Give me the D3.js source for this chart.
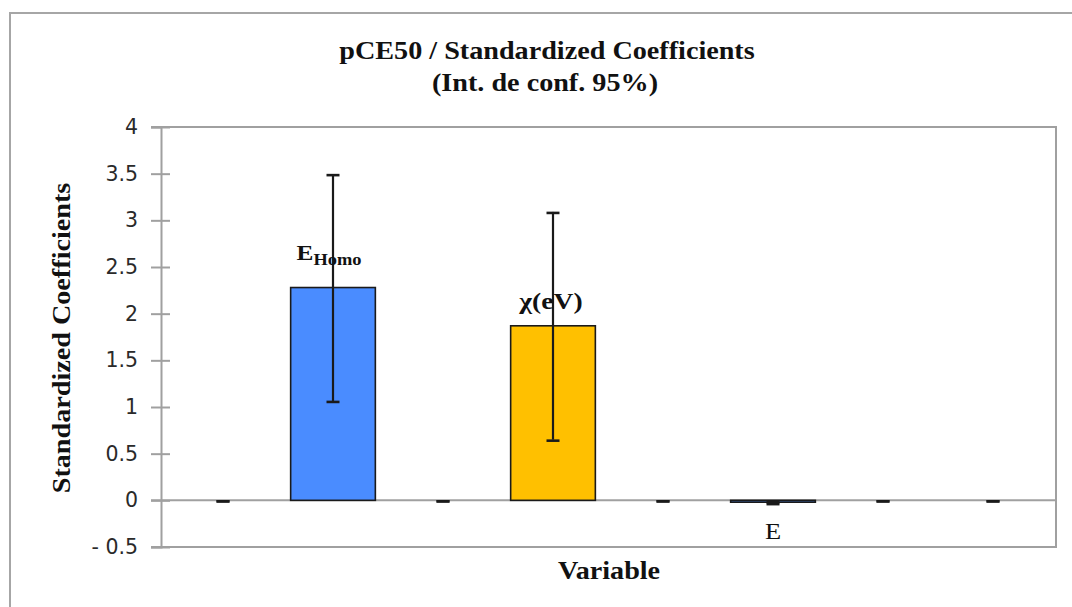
<!DOCTYPE html>
<html>
<head>
<meta charset="utf-8">
<script src="https://cdn.jsdelivr.net/npm/d3@7"></script>
<style>
  html, body { margin: 0; padding: 0; background: #ffffff; }
  svg { display: block; }
</style>
</head>
<body>
<svg id="chart" width="1072" height="607"></svg>
<script>
// ---- data ----
const categories = ["V1", "EHomo", "V3", "chi", "V5", "E", "V7", "V8"];
const values     = [0, 2.28, 0, 1.87, 0, -0.02, 0, 0];
const errors     = [0, 1.215, 0, 1.22, 0, 0.01, 0, 0];
const labelMain  = ["", "E", "", "χ(eV)", "", "E", "", ""];
const labelSub   = ["", "Homo", "", "", "", "", "", ""];
const yTickValues = [-0.5, 0, 0.5, 1, 1.5, 2, 2.5, 3, 3.5, 4];
const yTickLabels = ["- 0.5", "0", "0.5", "1", "1.5", "2", "2.5", "3", "3.5", "4"];
const titleLines = ["pCE50 / Standardized Coefficients", "(Int. de conf. 95%)"];
const yTitle = "Standardized Coefficients";
const xTitle = "Variable";

// ---- styles ----
const barFill = { EHomo: "#4a8cff", chi: "#ffc000", E: "#4a8cff" };
const gridGray = "#a0a0a0";
const serif = "'Liberation Serif', 'Times New Roman', serif";
const sans = "'DejaVu Sans', Verdana, sans-serif";
const SX = 1.15; // horizontal glyph stretch seen in reference

const svg = d3.select("#chart");
const plot = { left: 161, top: 127, right: 1056, bottom: 547 };

// outer frame
svg.append("rect")
  .attr("x", 10).attr("y", 13).attr("width", 1080).attr("height", 620)
  .attr("fill", "none").attr("stroke", "#a6a6a6").attr("stroke-width", 2);

const y = d3.scaleLinear().domain([-0.5, 4]).range([plot.bottom, plot.top]);
const x = d3.scaleBand().domain(categories)
  .range([plot.left + 7, plot.right - 8])
  .paddingInner(0.23).paddingOuter(0.115);

// plot frame (top & right), bottom line
svg.append("path")
  .attr("d", `M${plot.left - 10},${plot.top}H${plot.right}V${plot.bottom}H${plot.left - 10}`)
  .attr("fill", "none").attr("stroke", gridGray).attr("stroke-width", 2);

// y axis
const yAxis = d3.axisLeft(y)
  .tickValues(yTickValues)
  .tickFormat((d, i) => yTickLabels[i])
  .tickSize(10).tickPadding(13);
const gy = svg.append("g").attr("transform", `translate(${plot.left},0)`).call(yAxis);
gy.select(".domain").attr("stroke", gridGray).attr("stroke-width", 2);
gy.selectAll(".tick line").attr("stroke", gridGray).attr("stroke-width", 2);
gy.selectAll(".tick").append("line")
  .attr("x1", 0).attr("x2", 9).attr("stroke", gridGray).attr("stroke-width", 2);
gy.selectAll(".tick text")
  .attr("fill", "#2a2a2a").style("font-family", sans).style("font-size", "20.5px");

// zero line
svg.append("line")
  .attr("x1", plot.left - 10).attr("x2", plot.right)
  .attr("y1", y(0)).attr("y2", y(0))
  .attr("stroke", gridGray).attr("stroke-width", 2);

// bars
const data = categories.map((c, i) => ({ c, v: values[i], e: errors[i], lm: labelMain[i], ls: labelSub[i] }));
svg.append("g").selectAll("rect")
  .data(data.filter(d => d.v !== 0))
  .join("rect")
  .attr("x", d => x(d.c))
  .attr("width", x.bandwidth())
  .attr("y", d => Math.min(y(d.v), y(0)))
  .attr("height", d => Math.abs(y(d.v) - y(0)))
  .attr("fill", d => barFill[d.c])
  .attr("stroke", "#1a1a1a").attr("stroke-width", 1.6);

// error bars
const eb = svg.append("g").attr("stroke", "#1a1a1a").attr("stroke-width", 2.2);
data.forEach(d => {
  const cx = x(d.c) + x.bandwidth() / 2;
  eb.append("line").attr("x1", cx).attr("x2", cx)
    .attr("y1", y(d.v - d.e)).attr("y2", y(d.v + d.e));
  [d.v - d.e, d.v + d.e].forEach(val => {
    eb.append("line").attr("x1", cx - 6.5).attr("x2", cx + 6.5)
      .attr("y1", y(val) + 1).attr("y2", y(val) + 1).attr("stroke-width", 2.6);
  });
});

// helper for horizontally stretched text
function sText(parent, str, cx, cy, size, weight, rotate) {
  const t = parent.append("text")
    .attr("transform", `translate(${cx},${cy})${rotate ? " rotate(-90)" : ""} scale(${SX},1)`)
    .attr("text-anchor", "middle")
    .style("font-family", serif).style("font-size", size + "px")
    .style("font-weight", weight).attr("fill", "#111");
  if (str !== null) t.text(str);
  return t;
}

// data labels
data.forEach(d => {
  if (!d.lm) return;
  const cx = x(d.c) + x.bandwidth() / 2;
  if (d.ls) {
    const t = sText(svg, null, cx - 4, y(d.v) - 28, 22, "bold");
    t.append("tspan").text(d.lm);
    t.append("tspan").attr("dy", 5).style("font-size", "16px").text(d.ls);
  } else if (d.v > 0) {
    sText(svg, d.lm, cx - 2, y(d.v) - 17, 24, "bold");
  } else {
    sText(svg, d.lm, cx, y(d.v) + 37, 23, "normal");
  }
});

// titles
sText(svg, titleLines[0], 547, 59, 24.5, "bold");
sText(svg, titleLines[1], 545, 91, 24.5, "bold");
sText(svg, yTitle, 70, 338, 24.5, "bold", true);
sText(svg, xTitle, 609, 579, 24.5, "bold");
</script>
</body>
</html>
